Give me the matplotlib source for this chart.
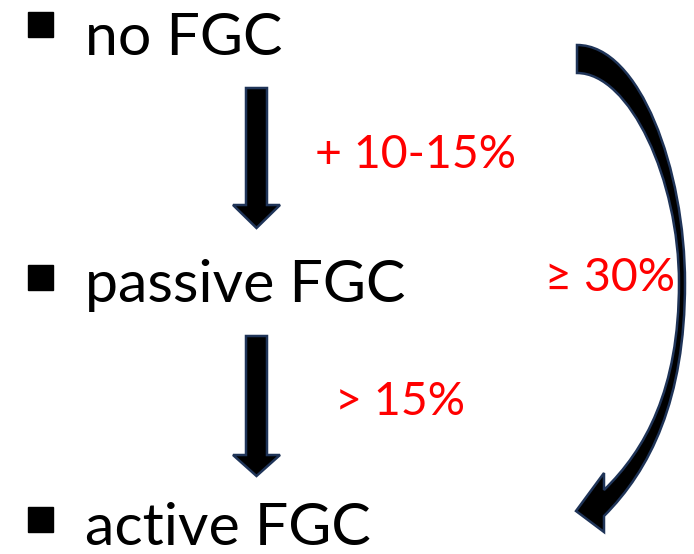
import matplotlib
matplotlib.use("Agg")
import matplotlib.pyplot as plt
from matplotlib.patches import Polygon, Rectangle, PathPatch
from matplotlib.path import Path

# ---- content ----
stages = ["no FGC", "passive FGC", "active FGC"]
step_labels = ["+ 10-15%", "> 15%"]
jump_label = "\u2265 30%"

# ---- layout (pixel coordinates, y downwards) ----
W, H = 694, 554
stage_baselines = [55, 302, 545]
bullet_tops = [12, 265, 507]
text_x = 85
bullet_x, bullet_size = 28, 25
step_label_pos = [(315, 168), (335, 415)]
jump_label_pos = (545, 291)
arrows = [(88, 205, 228), (336, 455, 476)]  # shaft top, head base, tip
shaft_x = (246, 267)
head_x = (233, 280)

FONT = ["Lato", "DejaVu Sans"]
EDGE = "#1F3458"

fig = plt.figure(figsize=(W / 100, H / 100), dpi=100)
ax = fig.add_axes([0, 0, 1, 1])
ax.set_xlim(0, W)
ax.set_ylim(H, 0)
ax.axis("off")

for name, base, btop in zip(stages, stage_baselines, bullet_tops):
    ax.add_patch(Rectangle((bullet_x, btop), bullet_size, bullet_size, color="black"))
    ax.text(text_x, base, name, fontsize=42.5, family=FONT, color="black",
            ha="left", va="baseline")

for lab, (x, y) in zip(step_labels, step_label_pos):
    ax.text(x, y, lab, fontsize=33.5, family=FONT, color="#FF0000",
            ha="left", va="baseline")
ax.text(jump_label_pos[0], jump_label_pos[1], jump_label, fontsize=33.5, family=FONT,
        color="#FF0000", ha="left", va="baseline")

# straight arrows
for top, hb, tip in arrows:
    x0, x1 = shaft_x
    h0, h1 = head_x
    pts = [(x0, top), (x1, top), (x1, hb), (h1, hb), ((h0 + h1) / 2, tip),
           (h0, hb), (x0, hb)]
    ax.add_patch(Polygon(pts, closed=True, facecolor="black", edgecolor=EDGE,
                         linewidth=1.8, joinstyle="miter"))

# curved arrow
verts = [
    (577, 45),
    (640, 45), (685, 170), (685, 283),
    (685, 400), (650, 470), (604, 516),
    (604, 532),
    (576, 511),
    (604, 473),
    (604, 490),
    (645, 450), (679, 390), (679, 283),
    (679, 180), (630, 73), (577, 73),
    (577, 45),
]
codes = [Path.MOVETO,
         Path.CURVE4, Path.CURVE4, Path.CURVE4,
         Path.CURVE4, Path.CURVE4, Path.CURVE4,
         Path.LINETO, Path.LINETO, Path.LINETO, Path.LINETO,
         Path.CURVE4, Path.CURVE4, Path.CURVE4,
         Path.CURVE4, Path.CURVE4, Path.CURVE4,
         Path.CLOSEPOLY]
ax.add_patch(PathPatch(Path(verts, codes), facecolor="black", edgecolor=EDGE,
                       linewidth=1.8, joinstyle="miter"))

fig.savefig("out.png", dpi=100)
